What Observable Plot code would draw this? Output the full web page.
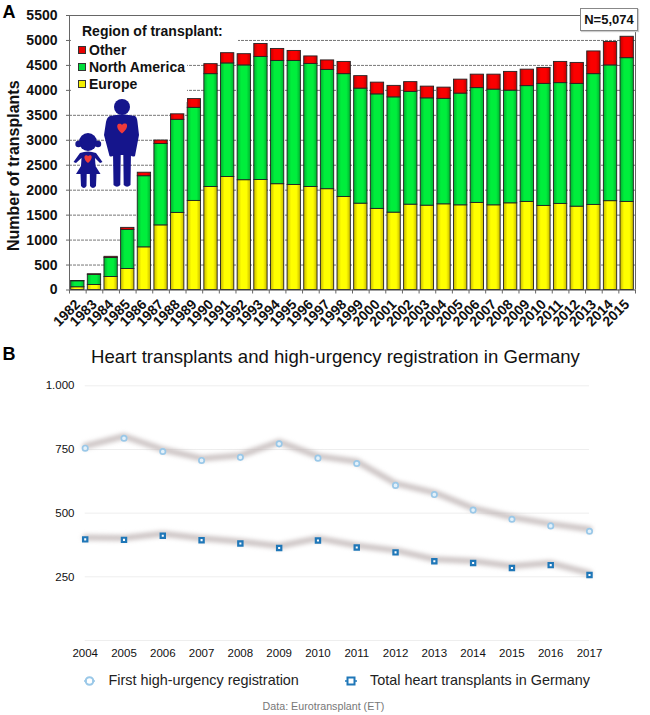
<!DOCTYPE html>
<html><head><meta charset="utf-8">
<script src="https://cdn.jsdelivr.net/npm/d3@7"></script>
<script src="https://cdn.jsdelivr.net/npm/@observablehq/plot@0.6"></script>
<style>
html,body{margin:0;padding:0;background:#fff}
#root{position:relative;width:650px;height:715px;overflow:hidden;font-family:"Liberation Sans",Arial,sans-serif;color:#111}
#root>*{position:absolute}
.lab{white-space:nowrap;line-height:1}
</style></head><body><div id="root"></div>
<script>
const years = d3.range(1982, 2016);
const europe = [55,100,260,420,855,1295,1545,1785,2065,2265,2200,2205,2120,2105,2065,2020,1865,1730,1625,1550,1710,1690,1717,1697,1745,1697,1737,1765,1685,1725,1670,1705,1780,1765];
const northAmerica = [120,205,380,785,1425,1630,1865,1865,2260,2275,2300,2465,2470,2485,2465,2390,2460,2305,2295,2310,2260,2150,2113,2238,2300,2318,2258,2320,2445,2420,2460,2620,2720,2880];
const other = [5,10,25,40,70,70,110,175,200,205,225,260,240,200,150,190,245,250,235,230,195,235,225,280,270,300,375,330,320,425,420,455,470,429];
const regions = ["Europe","North America","Other"];
const regionFills = ["url(#gY)","url(#gG)","url(#gR)"];
const gridValues = [500,1000,1500,2000,2500,3000,3500,4000,4500,5000];
const yTicks = [0,500,1000,1500,2000,2500,3000,3500,4000,4500,5000,5500];

const yearsB = d3.range(2004, 2018);
const firstHU = [755,794,742,707,719,772,716,695,609,573,512,476,450,429];
const totalHT = [397,395,411,394,381,363,393,365,346,311,304,285,296,257];
const gridB = [0,250,500,750,1000];

const root = document.getElementById("root");
function add(html, css){const d=document.createElement("div");d.className="lab";d.innerHTML=html;d.style.cssText=css;root.appendChild(d);return d;}

// ---------- panel A
const rows = [];
years.forEach((yr,i)=>{
  const vals=[europe[i],northAmerica[i],other[i]];
  let c=0;
  vals.forEach((v,j)=>{rows.push({year:yr,region:regions[j],y1:c,y2:c+v});c+=v;});
});
function defs(){
  const mk=(id,e,m)=>`<linearGradient id="${id}" x1="0" x2="1" y1="0" y2="0"><stop offset="0" stop-color="${e}"/><stop offset=".3" stop-color="${m}"/><stop offset=".7" stop-color="${m}"/><stop offset="1" stop-color="${e}"/></linearGradient>`;
  const g=document.createElementNS("http://www.w3.org/2000/svg","defs");
  g.innerHTML=mk("gY","#c8b800","#ffff00")+mk("gG","#00b030","#00ee3c")+mk("gR","#c00000","#fb0000");
  return g;
}
const chartA = Plot.plot({
  width:650,height:345,marginLeft:69,marginRight:15,marginTop:15,marginBottom:55.5,
  style:{fontFamily:'"Liberation Sans",Arial,sans-serif',background:"transparent",color:"#111"},
  x:{domain:[1981.5,2015.5]},
  y:{domain:[0,5500]},
  color:{domain:regions,range:regionFills},
  marks:[
    defs,
    Plot.ruleY(gridValues,{stroke:"#777",strokeWidth:1,strokeDasharray:"3,1"}),
    Plot.ruleY([5500],{stroke:"#666",strokeWidth:1}),
    Plot.ruleX([2015.5],{stroke:"#666",strokeWidth:1}),
    Plot.ruleX([1981.5],{stroke:"#666",strokeWidth:1}),
    Plot.rect(rows,{x1:d=>d.year-0.4,x2:d=>d.year+0.4,y1:"y1",y2:"y2",fill:"region",stroke:"#222",strokeWidth:0.9}),
    Plot.ruleY([0],{stroke:"#444",strokeWidth:1}),
    Plot.axisY({ticks:yTicks,tickSize:3,tickPadding:9,fontSize:14,fontWeight:"bold",label:null,tickFormat:d=>String(d),stroke:"#666"}),
    Plot.axisX({ticks:[...years.map(y=>y-0.5),2015.5],tickSize:4,tickFormat:()=>"",label:null,stroke:"#666"}),
    Plot.axisX({ticks:years,tickSize:0,tickPadding:12,tickRotate:-45,textAnchor:"end",fontSize:14,fontWeight:"bold",label:null,tickFormat:d=>String(d)}),
    Plot.text(["Number of transplants"],{frameAnchor:"left",textAnchor:"middle",rotate:-90,dx:-56,dy:13,fontSize:16,fontWeight:"bold",fill:"#111"})
  ]
});
chartA.style.left="0";chartA.style.top="0";
root.appendChild(chartA);

// legend background, text
add("", "left:71px;top:22px;width:167px;height:26px;background:#fff");
add("", "left:71px;top:48px;width:116px;height:54px;background:#fff");
add("Region of transplant:", "left:82px;top:23.5px;font-size:14px;font-weight:bold");
[["Other","#e80000",50],["North America","#00dd3c",67],["Europe","#f2ee00",84]].forEach(([t,c,y])=>{
  add("", `left:78px;top:${y-4}px;box-sizing:border-box;width:8px;height:8px;border:1px solid #333;background:${c}`);
  add(t, `left:89px;top:${y-7.5}px;font-size:14px;font-weight:bold`);
});
add("A","left:2.5px;top:3px;font-size:18px;font-weight:bold;color:#000");
add("N=5,074","left:580px;top:8px;width:56px;height:21px;background:#fff;border:1px solid #888;text-align:center;font-size:13px;font-weight:bold;line-height:21px;box-shadow:1px 1px 1px #ccc");

// icons
const icons=document.createElement("div");
icons.style.cssText="left:0;top:0;width:650px;height:345px;pointer-events:none";
icons.innerHTML=`<svg width="650" height="345" style="display:block">
<g fill="#15158c">
<circle cx="122" cy="107" r="8"/>
<path d="M110,116 Q122,113 135,116 Q137,117 137.5,122 L139,135 L135,156 Q133,157.5 130,155 L132,137 L131,152 L130.5,185 Q127,188.5 123.7,185 L123.3,155 L120.7,155 L120.3,185 Q117,188.5 113.5,185 L113,152 L112,137 L114,155 Q111.5,157.5 109.5,156 L104,135 L106,122 Q107,117 110,116 Z"/>
<circle cx="88" cy="142" r="9"/>
<circle cx="78.5" cy="144" r="3.2"/><circle cx="98" cy="144" r="3.2"/>
<path d="M80,153 Q88,150 96,153 L102.5,162 L100,163 L95,158 L95.5,166 L100.5,174 L96.5,174 L96,186 Q93,190 90,186 L89.8,174 L86.7,174 L86.5,186 Q84,190 81,186 L80.5,174 L76,174 L81,166 L81.5,158 L76,163 L73.5,162 Z"/>
</g>
<g fill="#f03a3a">
<path d="M122,133.5 C116,129 116.5,124 119,123.8 C120.5,123.6 121.5,124.2 122,125 C123,123.8 124,123.4 125.5,123.6 C128,124 128,129 122,133.5 Z"/>
<path d="M88,163 C83.5,159.5 83.8,155.4 86,155.2 C87,155.1 87.6,155.6 88,156.2 C88.6,155.5 89.4,155.1 90.4,155.2 C92.4,155.5 92.4,159.5 88,163 Z"/>
</g></svg>`;
root.appendChild(icons);

// ---------- panel B
const toRows = a => yearsB.map((y,i)=>({year:y,value:a[i]}));
const fmtB = d => d===1000 ? "1.000" : String(d);
const chartB = Plot.plot({
  width:650,height:325,marginLeft:84.7,marginRight:61,marginTop:40.3,marginBottom:30,
  style:{fontFamily:'"Liberation Sans",Arial,sans-serif',background:"transparent",color:"#111"},
  x:{domain:[2004,2017]},
  y:{domain:[0,1000]},
  marks:[
    Plot.ruleY(gridB,{stroke:"#eeeeee",strokeWidth:1}),
    Plot.line(toRows(firstHU),{x:"year",y:"value",dy:-2,stroke:"#b8adad",strokeOpacity:0.7,strokeWidth:6,imageFilter:"blur(2.2px)"}),
    Plot.line(toRows(totalHT),{x:"year",y:"value",dy:-2,stroke:"#b8adad",strokeOpacity:0.7,strokeWidth:6,imageFilter:"blur(2.2px)"}),
    Plot.dot(toRows(firstHU),{x:"year",y:"value",r:2.7,stroke:"#9ac8e8",strokeWidth:1.7,fill:"#e4f1fa"}),
    Plot.dot(toRows(totalHT),{x:"year",y:"value",symbol:"square",r:2.4,stroke:"#1f77b8",strokeWidth:2.2,fill:"#fff"}),
    Plot.axisY({ticks:[250,500,750,1000],tickSize:0,tickPadding:10.7,fontSize:11.5,label:null,tickFormat:fmtB}),
    Plot.axisX({ticks:yearsB,tickSize:0,tickPadding:8.5,fontSize:11.5,label:null,tickFormat:d=>String(d)})
  ]
});
chartB.style.left="0";chartB.style.top="345px";
root.appendChild(chartB);

add("B","left:2.5px;top:345px;font-size:18px;font-weight:bold;color:#000");
add("Heart transplants and high-urgency registration in Germany","left:0;width:671px;text-align:center;top:347.5px;font-size:18.6px;color:#111");
add("First high-urgency registration","left:108.5px;top:673px;font-size:14.4px;color:#222");
add("Total heart transplants in Germany","left:370px;top:673px;font-size:14.4px;color:#222");
add("Data: Eurotransplant (ET)","left:0;width:647px;text-align:center;top:700.5px;font-size:10.7px;color:#777");
const leg=document.createElement("div");
leg.style.cssText="left:0;top:665px;width:650px;height:30px";
leg.innerHTML=`<svg width="650" height="30" style="display:block"><circle cx="89.5" cy="16" r="3.8" fill="#fff" stroke="#9ac8e8" stroke-width="2"/><path d="M84,16h3M92,16h3" stroke="#9ac8e8" stroke-width="1.5"/><rect x="347.5" y="12.5" width="7" height="7" fill="#fff" stroke="#1f77b8" stroke-width="2"/><path d="M345,16h2M355,16h2" stroke="#1f77b8" stroke-width="1.5"/></svg>`;
root.appendChild(leg);
</script></body></html>
